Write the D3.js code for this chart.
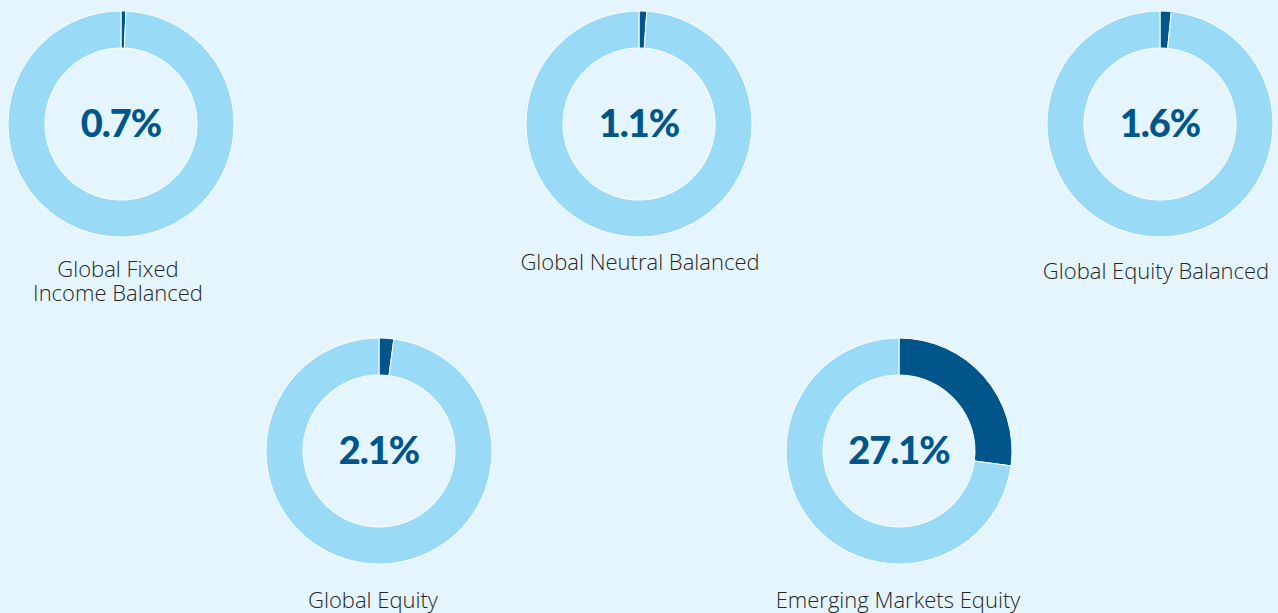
<!DOCTYPE html>
<html>
<head>
<meta charset="utf-8">
<script src="https://cdn.jsdelivr.net/npm/d3@7"></script>
<style>
  html, body { margin: 0; padding: 0; background: #e4f5fd; }
  svg { display: block; }
</style>
</head>
<body>
<svg id="chart"></svg>
<script>
const width = 1278;
const height = 613;

// data
const funds = ["Global Fixed Income Balanced", "Global Neutral Balanced", "Global Equity Balanced", "Global Equity", "Emerging Markets Equity"];
const shares = [0.7, 1.1, 1.6, 2.1, 27.1];
const labelLines = [["Global Fixed", "Income Balanced"], ["Global Neutral Balanced"], ["Global Equity Balanced"], ["Global Equity"], ["Emerging Markets Equity"]];

// layout for each donut: center and label baseline
const centers = [[121, 124], [639, 124], [1160, 124], [379, 451], [899, 451]];
const labelY = [277, 270, 279, 608, 608];
const labelDx = [-3, 1, -4, -6, -1];

const darkColor = '#00568a';
const lightColor = '#99daf7';
const bgColor = '#e4f5fd';

const outerR = 113;
const innerR = 76;

const svg = d3.select("#chart")
    .attr("width", width)
    .attr("height", height)
    .attr("viewBox", [0, 0, width, height]);

svg.append("rect")
    .attr("width", width)
    .attr("height", height)
    .attr("fill", bgColor);

const pie = d3.pie().sort(null).value(d => d);
const arc = d3.arc().innerRadius(innerR).outerRadius(outerR);

const g = svg.selectAll("g.donut")
  .data(funds)
  .enter().append("g")
    .attr("class", "donut")
    .attr("transform", (d, i) => `translate(${centers[i][0]},${centers[i][1]})`);

g.selectAll("path")
  .data((d, i) => pie([shares[i], 100 - shares[i]]))
  .enter().append("path")
    .attr("d", arc)
    .attr("fill", (d, i) => i === 0 ? darkColor : lightColor)
    .attr("stroke", "#ffffff")
    .attr("stroke-width", 1);

g.append("text")
    .attr("text-anchor", "middle")
    .attr("y", 13)
    .attr("font-family", "Lato, sans-serif")
    .attr("font-weight", 900)
    .attr("font-size", "38px")
    .attr("letter-spacing", "-1px")
    .attr("fill", darkColor)
    .text((d, i) => shares[i].toFixed(1) + "%");

g.each(function(d, i) {
  const lines = labelLines[i];
  d3.select(this).append("text")
      .attr("text-anchor", "middle")
      .attr("font-family", "'Open Sans', sans-serif")
      .attr("font-weight", 300)
      .attr("font-size", "22px")
      .attr("fill", "#262626")
    .selectAll("tspan")
    .data(lines)
    .enter().append("tspan")
      .attr("x", labelDx[i])
      .attr("y", (l, j) => labelY[i] - centers[i][1] + j * 24)
      .text(l => l);
});
</script>
</body>
</html>
